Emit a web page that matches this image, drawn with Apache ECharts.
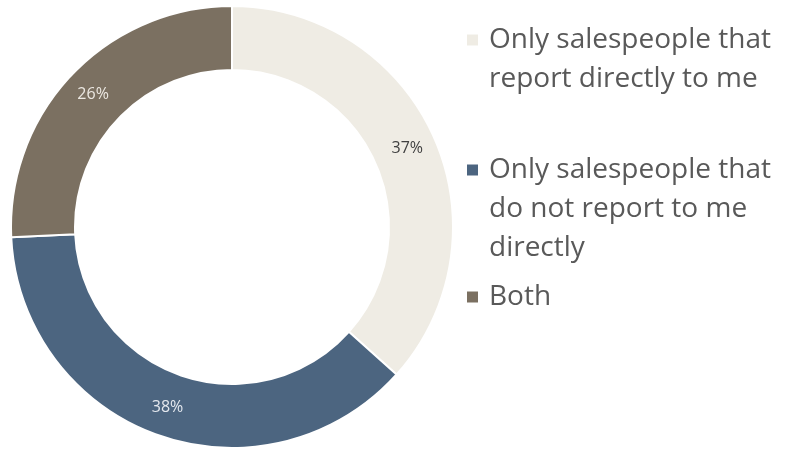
<!DOCTYPE html>
<html>
<head>
<meta charset="utf-8">
<script src="https://cdn.jsdelivr.net/npm/echarts@6/dist/echarts.min.js"></script>
<style>
  html, body { margin: 0; padding: 0; background: #fff; }
  #chart { width: 797px; height: 449px; }
</style>
</head>
<body>
<div id="chart"></div>
<script>
// data
var categories = [
  'Only salespeople that\nreport directly to me',
  'Only salespeople that\ndo not report to me\ndirectly',
  'Both'
];
var values = [37, 38, 26];
var colors = ['#efece4', '#4c6580', '#7b7061'];
var labelColors = ['#404040', '#e4e8ee', '#ece8e2'];

var chart = echarts.init(document.getElementById('chart'));

var lineH = 39;
var iconCenters = [40, 170, 297];

// one legend per item; blank lines in front keep the marker on the first text line
var legends = categories.map(function (name, i) {
  var n = name.split('\n').length;
  var total = 2 * n - 1;
  return {
    orient: 'vertical',
    left: 465,
    top: iconCenters[i] - total * lineH / 2,
    padding: 0,
    icon: 'rect',
    itemWidth: 13,
    itemHeight: 13,
    selectedMode: false,
    data: [name],
    formatter: function (nm) {
      return new Array(n).join('\n') + nm;
    },
    textStyle: {
      fontFamily: 'Open Sans',
      fontSize: 28,
      color: '#595959',
      lineHeight: lineH,
      padding: [0, 0, 0, 5]
    }
  };
});

var option = {
  animation: false,
  legend: legends,
  series: [
    {
      type: 'pie',
      center: [232, 227],
      radius: [157, 221],
      startAngle: 90,
      clockwise: true,
      itemStyle: { borderColor: '#ffffff', borderWidth: 2 },
      label: {
        show: true,
        position: 'inside',
        formatter: '{c}%',
        fontFamily: 'Open Sans',
        fontSize: 16
      },
      labelLine: { show: false },
      emphasis: { disabled: true },
      data: categories.map(function (name, i) {
        return {
          name: name,
          value: values[i],
          itemStyle: { color: colors[i] },
          label: { color: labelColors[i] }
        };
      })
    }
  ]
};
chart.setOption(option);
</script>
</body>
</html>
